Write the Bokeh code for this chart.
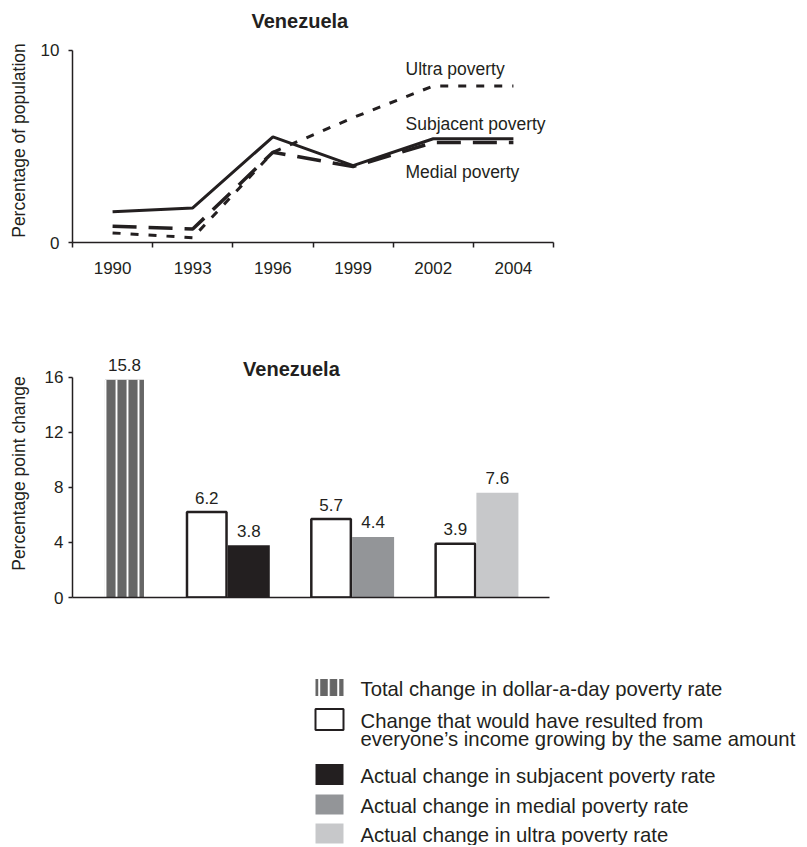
from bokeh.plotting import figure
from bokeh.models import FixedTicker, Range1d, ColumnDataSource
from bokeh.layouts import column
from bokeh.embed import file_html
from bokeh.resources import INLINE
from bokeh.core.properties import value

FONT = "Liberation Sans"
INK = "#231f20"

# ---------------- data: top chart (percentage of population) ----------------
years = ["1990", "1993", "1996", "1999", "2002", "2004"]
subjacent = [1.6, 1.8, 5.5, 4.0, 5.4, 5.4]
medial = [0.85, 0.7, 4.7, 3.95, 5.2, 5.2]
ultra = [0.5, 0.25, 4.7, 6.5, 8.15, 8.15]
line_names = ["Ultra poverty", "Subjacent poverty", "Medial poverty"]
top_yticks = [0, 10]

# ---------------- data: bottom chart (percentage point change) ----------------
groups = ["Total", "Subjacent", "Medial", "Ultra"]
same_growth = [None, 6.2, 5.7, 3.9]
actual = [15.8, 3.8, 4.4, 7.6]
bottom_yticks = [0, 4, 8, 12, 16]

legend_labels = [
    "Total change in dollar-a-day poverty rate",
    "Change that would have resulted from\neveryone\u2019s income growing by the same amount",
    "Actual change in subjacent poverty rate",
    "Actual change in medial poverty rate",
    "Actual change in ultra poverty rate",
]

# ---------------- styles ----------------
actual_colors = ["#666666", INK, "#939598", "#c7c8ca"]
actual_hatch = ["vertical_line", "blank", "blank", "blank"]
TICK_FS = "17px"
LABEL_FS = "17.5px"
TITLE_FS = "20px"


def style_axes(p):
    for ax in p.axis:
        ax.axis_line_color = INK
        ax.axis_line_width = 1.5
        ax.major_tick_line_color = INK
        ax.major_tick_line_width = 1.5
        ax.major_tick_in = 0
        ax.major_tick_out = 5
        ax.minor_tick_line_color = None
        ax.major_label_text_font = FONT
        ax.major_label_text_font_size = TICK_FS
        ax.major_label_text_color = INK
        ax.axis_label_text_font = FONT
        ax.axis_label_text_font_size = LABEL_FS
        ax.axis_label_text_font_style = "normal"
        ax.axis_label_text_color = INK


# ================= top chart =================
xs = [i + 0.5 for i in range(len(years))]
p1 = figure(width=573, height=290, x_range=Range1d(0, len(years)), y_range=Range1d(0, 10.62),
            output_backend="svg", toolbar_location=None, frame_align=False,
            min_border_left=72, min_border_right=20, min_border_top=37, min_border_bottom=48)
p1.outline_line_color = None
p1.grid.visible = False
style_axes(p1)

p1.title.text = "Venezuela"
p1.title.text_font = FONT
p1.title.text_font_size = TITLE_FS
p1.title.text_font_style = "bold"
p1.title.text_color = INK
p1.title.align = "left"
p1.title.offset = 179
p1.title.standoff = 14

p1.line(xs, subjacent, line_color=INK, line_width=3)
p1.line(xs, medial, line_color=INK, line_width=3.5, line_dash="24 12")
p1.line(xs, ultra, line_color=INK, line_width=3, line_dash="8 10")

xa = p1.xaxis[0]
xa.ticker = FixedTicker(ticks=xs, minor_ticks=list(range(len(years) + 1)))
xa.major_label_overrides = {x: y for x, y in zip(xs, years)}
xa.major_tick_line_color = None
xa.minor_tick_line_color = INK
xa.minor_tick_line_width = 1.5
xa.minor_tick_in = 0
xa.minor_tick_out = 5
xa.major_label_standoff = 14

ya = p1.yaxis[0]
ya.ticker = FixedTicker(ticks=top_yticks)
ya.bounds = (0, 10)
ya.major_tick_out = 4
ya.major_label_standoff = 9
ya.axis_label = "Percentage of population"
ya.axis_label_standoff = 9

p1.text(x=[4.154] * 3, y=[9.02, 6.17, 3.68], text=line_names,
        text_font=value(FONT), text_font_size=LABEL_FS, text_color=INK,
        text_align="left", text_baseline="middle")

# ================= bottom chart =================
gx = list(range(len(groups)))
half = 0.169
bar_w = 0.338

p2 = figure(width=573, height=322, x_range=Range1d(-0.249, 3.588), y_range=Range1d(0, 18),
            output_backend="svg", toolbar_location=None, frame_align=False,
            min_border_left=72, min_border_right=24, min_border_top=59, min_border_bottom=15)
p2.outline_line_color = None
p2.grid.visible = False
style_axes(p2)

white_src = ColumnDataSource(dict(
    x=[g - half for g, v in zip(gx, same_growth) if v is not None],
    top=[v for v in same_growth if v is not None],
))
p2.vbar(x="x", top="top", width=bar_w - 0.02, source=white_src, fill_color="white",
        line_color=INK, line_width=2.5)

act_src = ColumnDataSource(dict(
    x=[g + half for g in gx],
    top=actual,
    color=actual_colors,
    hatch=actual_hatch,
    w=[0.314] + [bar_w] * (len(groups) - 1),
))
p2.vbar(x="x", top="top", width="w", source=act_src, fill_color="color", line_color=None,
        hatch_pattern="hatch", hatch_color="white", hatch_scale=11, hatch_weight=1.9)

pad = 1.05  # gap between bar top and its value label, in axis units
lab_x = [g - half for g, v in zip(gx, same_growth) if v is not None] + [g + half for g in gx]
lab_v = [v for v in same_growth if v is not None] + actual
p2.text(x=lab_x, y=[v + pad for v in lab_v], text=[f"{v:.1f}" for v in lab_v],
        text_font=value(FONT), text_font_size=TICK_FS,
        text_color=INK, text_align="center", text_baseline="alphabetic")

p2.text(x=[1.512], y=[16.62], text=["Venezuela"], text_font=value(FONT),
        text_font_size=TITLE_FS, text_font_style="bold", text_color=INK,
        text_align="center", text_baseline="middle")

bx = p2.xaxis[0]
bx.ticker = FixedTicker(ticks=[])
bx.major_tick_line_color = None

by = p2.yaxis[0]
by.ticker = FixedTicker(ticks=bottom_yticks)
by.bounds = (0, 16)
by.major_tick_out = 4
by.major_label_standoff = 5
by.axis_label = "Percentage point change"
by.axis_label_standoff = 13

# ================= legend =================
LW, LH, LTOP = 805, 233, 612
p3 = figure(width=LW, height=LH, x_range=Range1d(0, LW), y_range=Range1d(LTOP + LH, LTOP),
            output_backend="svg", toolbar_location=None, min_border=0, frame_align=False,
            x_axis_location=None, y_axis_location=None)
p3.outline_line_color = None
p3.grid.visible = False

rows = [687, 719, 774, 804, 833]
sw_h = [17, 21, 21, 20, 20]
sw_fill = [actual_colors[0], "white", actual_colors[1], actual_colors[2], actual_colors[3]]
sw_hatch = ["vertical_line", "blank", "blank", "blank", "blank"]
sw_src = ColumnDataSource(dict(
    left=[315] * 5, right=[343] * 5,
    top=[r - h / 2 for r, h in zip(rows, sw_h)],
    bottom=[r + h / 2 for r, h in zip(rows, sw_h)],
    fill=sw_fill, hatch=sw_hatch,
))
p3.quad(left="left", right="right", top="top", bottom="bottom", source=sw_src,
        fill_color="fill", line_color=None, hatch_pattern="hatch", hatch_color="white",
        hatch_scale=9.5, hatch_weight=2)
p3.quad(left=[315], right=[343], top=[rows[1] - sw_h[1] / 2], bottom=[rows[1] + sw_h[1] / 2],
        fill_color=None, line_color=INK, line_width=2)

tx, ty, tt = [], [], []
for r, lab in zip(rows, legend_labels):
    for k, line in enumerate(lab.split("\n")):
        tx.append(360)
        ty.append(r + 1 + 18 * k)
        tt.append(line)
p3.text(x=tx, y=ty, text=tt, text_font=value(FONT), text_font_size="20.3px",
        text_color=INK, text_align="left", text_baseline="middle")

layout = column(p1, p2, p3)
open("out.html", "w").write(file_html(layout, INLINE))
